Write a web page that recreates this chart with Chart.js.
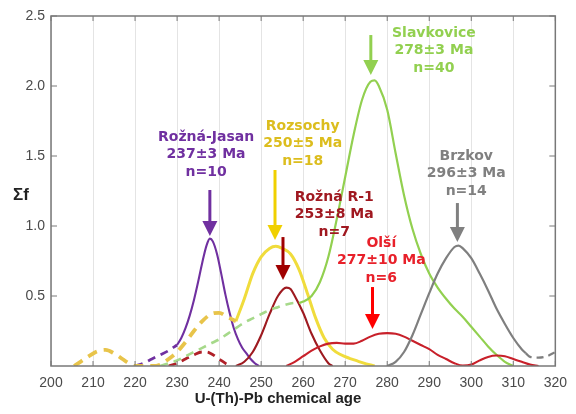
<!DOCTYPE html>
<html>
<head>
<meta charset="utf-8">
<script src="https://cdn.jsdelivr.net/npm/chart.js@4.4.1/dist/chart.umd.min.js"></script>
<style>
html, body { margin: 0; padding: 0; background: #fff; }
#wrap { width: 576px; height: 414px; }
</style>
</head>
<body>
<div id="wrap"><canvas id="chart" width="576" height="414"></canvas></div>
<script>
// axis ticks
var xTicks = [200, 210, 220, 230, 240, 250, 260, 270, 280, 290, 300, 310, 320];
var yTicks = [0.5, 1.0, 1.5, 2.0, 2.5];

// Rozna-Jasan (dashed up to 230, solid after)
var jasanAge = [220, 222, 224, 226, 228, 230, 231, 232, 233, 234, 235, 236, 237, 237.8, 238.5, 239.5, 240.5, 241.5, 242.5, 243.5, 244.5, 245.5, 246.5, 247.5, 248.5, 249.5];
var jasanF   = [0, 0.02, 0.05, 0.08, 0.11, 0.15, 0.2, 0.27, 0.36, 0.47, 0.6, 0.74, 0.86, 0.91, 0.89, 0.8, 0.66, 0.51, 0.38, 0.27, 0.19, 0.13, 0.09, 0.05, 0.02, 0];
// Rozsochy (dashed up to 244)
var rozsAge = [205.5, 207, 209, 211, 213, 215, 217, 219, 220, 222, 224, 226, 228, 230, 232, 234, 236, 238, 240, 242, 244, 246, 248, 250, 252, 253.5, 255, 257, 259, 261, 263, 265, 267, 269, 271, 273, 275, 277];
var rozsF   = [0, 0.03, 0.07, 0.105, 0.115, 0.09, 0.05, 0.01, 0, 0, 0, 0.01, 0.05, 0.1, 0.17, 0.25, 0.32, 0.37, 0.38, 0.35, 0.32, 0.48, 0.66, 0.78, 0.84, 0.855, 0.84, 0.8, 0.69, 0.52, 0.34, 0.2, 0.12, 0.08, 0.055, 0.035, 0.015, 0];
// Rozna R-1 (dashed up to 243)
var r1Age = [228, 230, 232, 234, 236, 237, 238, 240, 242, 243, 244, 246, 248, 250, 252, 254, 256, 257, 258, 260, 262, 264, 266, 267];
var r1F   = [0, 0.02, 0.05, 0.08, 0.1, 0.1, 0.09, 0.05, 0.01, 0, 0, 0.03, 0.1, 0.22, 0.37, 0.5, 0.56, 0.55, 0.5, 0.38, 0.23, 0.11, 0.02, 0];
// Olsi
var olsiAge = [256, 258, 260, 262, 264, 266, 268, 270, 272, 274, 276, 278, 280, 282, 284, 286, 288, 290, 292, 294, 296, 298, 300, 302, 304, 306, 308, 310, 312, 314, 316];
var olsiF   = [0, 0.03, 0.07, 0.11, 0.14, 0.16, 0.165, 0.16, 0.16, 0.18, 0.21, 0.23, 0.235, 0.23, 0.21, 0.18, 0.15, 0.12, 0.08, 0.05, 0.02, 0.003, 0.01, 0.04, 0.065, 0.075, 0.07, 0.05, 0.03, 0.01, 0];
// Slavkovice (dashed up to 259)
var slavAge = [226, 228, 230, 232, 234, 236, 238, 240, 242, 244, 246, 248, 250, 252, 254, 256, 258, 259, 260, 262, 264, 266, 268, 270, 272, 274, 276, 277, 278, 280, 282, 284, 286, 288, 290, 292, 294, 296, 298, 300, 302, 304, 306, 308, 310];
var slavF   = [0, 0.02, 0.04, 0.07, 0.1, 0.13, 0.16, 0.19, 0.23, 0.27, 0.31, 0.34, 0.37, 0.4, 0.42, 0.44, 0.45, 0.45, 0.46, 0.5, 0.6, 0.78, 1.05, 1.35, 1.65, 1.9, 2.03, 2.04, 2.0, 1.83, 1.52, 1.22, 0.98, 0.8, 0.66, 0.56, 0.48, 0.41, 0.35, 0.28, 0.21, 0.14, 0.08, 0.03, 0];
// Brzkov (solid up to 313, dashed after)
var brzAge = [280, 282, 284, 286, 288, 290, 292, 294, 296, 297, 298, 300, 302, 304, 306, 308, 310, 312, 313, 314, 316, 318, 320];
var brzF   = [0, 0.03, 0.1, 0.22, 0.37, 0.52, 0.66, 0.77, 0.85, 0.86, 0.84, 0.77, 0.66, 0.54, 0.41, 0.3, 0.2, 0.12, 0.09, 0.065, 0.06, 0.07, 0.1];

// labels with arrows
var notes = [
  { lines: ['Rožná-Jasan', '237±3 Ma', 'n=10'], tx: 236.9, ty: 1.636, ax: 237.8, a0: 1.257, a1: 0.929, text: '#7030a0', arrow: '#7030a0' },
  { lines: ['Rozsochy', '250±5 Ma', 'n=18'], tx: 259.9, ty: 1.714, ax: 253.3, a0: 1.4, a1: 0.9, text: '#dcbd1e', arrow: '#f0d000' },
  { lines: ['Rožná R-1', '253±8 Ma', 'n=7'], tx: 267.4, ty: 1.207, ax: 255.2, a0: 0.921, a1: 0.614, text: '#a01820', arrow: '#a00000' },
  { lines: ['Olší', '277±10 Ma', 'n=6'], tx: 278.6, ty: 0.879, ax: 276.5, a0: 0.564, a1: 0.264, text: '#e8202a', arrow: '#ff0000' },
  { lines: ['Slavkovice', '278±3 Ma', 'n=40'], tx: 291.1, ty: 2.379, ax: 276.1, a0: 2.364, a1: 2.079, text: '#92d050', arrow: '#92d050' },
  { lines: ['Brzkov', '296±3 Ma', 'n=14'], tx: 298.8, ty: 1.5, ax: 296.7, a0: 1.164, a1: 0.886, text: '#808080', arrow: '#808080' }
];

function pts(age, f, from, to) {
  var out = [];
  for (var i = 0; i < age.length; i++) {
    if (age[i] >= from && age[i] <= to) out.push({ x: age[i], y: f[i] });
  }
  return out;
}

function series(age, f, split, dashFirst, color, dashColor, w, dw, dash) {
  var lo = dashFirst ? pts(age, f, -1, split) : pts(age, f, split, 1e9);
  var hi = dashFirst ? pts(age, f, split, 1e9) : pts(age, f, -1, split);
  var line = { data: hi, borderColor: color, borderWidth: w, pointRadius: 0, fill: false, cubicInterpolationMode: 'monotone' };
  var dashed = { data: lo, borderColor: dashColor, borderWidth: dw, borderDash: dash, pointRadius: 0, fill: false, cubicInterpolationMode: 'monotone' };
  return [dashed, line];
}

var datasets = [].concat(
  series(brzAge, brzF, 313, false, '#7f7f7f', '#7f7f7f', 2.2, 2.2, [7, 5]),
  series(olsiAge, olsiF, 0, true, '#c8202a', '#c8202a', 2.1, 2.1, []),
  series(slavAge, slavF, 259, true, '#92d050', '#a6d98a', 2.2, 2.6, [8, 6]),
  series(r1Age, r1F, 243.5, true, '#9e1a20', '#b02028', 2.1, 2.8, [8, 6]),
  series(rozsAge, rozsF, 244, true, '#f0dc3c', '#e8c44a', 3, 3.8, [10, 7]),
  series(jasanAge, jasanF, 230, true, '#7030a0', '#7030a0', 2.1, 2.8, [8, 6])
);

var decor = {
  id: 'decor',
  afterDatasetsDraw: function(chart) {
    var ctx = chart.ctx, a = chart.chartArea, xs = chart.scales.x, ys = chart.scales.y;
    ctx.save();
    // frame and inner ticks
    ctx.strokeStyle = '#787878';
    ctx.lineWidth = 1.5;
    ctx.strokeRect(a.left, a.top, a.right - a.left, a.bottom - a.top);
    ctx.lineWidth = 1;
    ctx.beginPath();
    xTicks.forEach(function(v) {
      var x = xs.getPixelForValue(v);
      ctx.moveTo(x, a.top); ctx.lineTo(x, a.top + 5);
      ctx.moveTo(x, a.bottom); ctx.lineTo(x, a.bottom - 5);
    });
    yTicks.forEach(function(v) {
      var y = ys.getPixelForValue(v);
      ctx.moveTo(a.left, y); ctx.lineTo(a.left + 6, y);
      ctx.moveTo(a.right, y); ctx.lineTo(a.right - 6, y);
    });
    ctx.stroke();

    // annotations
    ctx.font = 'bold 14px "DejaVu Sans"';
    ctx.textAlign = 'center';
    ctx.textBaseline = 'middle';
    notes.forEach(function(n) {
      var tx = xs.getPixelForValue(n.tx), ty = ys.getPixelForValue(n.ty);
      ctx.fillStyle = n.text;
      n.lines.forEach(function(t, i) { ctx.fillText(t, tx, ty + i * 17.5); });
      var ax = xs.getPixelForValue(n.ax), y0 = ys.getPixelForValue(n.a0), y1 = ys.getPixelForValue(n.a1);
      ctx.strokeStyle = n.arrow;
      ctx.fillStyle = n.arrow;
      ctx.lineWidth = 3;
      ctx.beginPath();
      ctx.moveTo(ax, y0); ctx.lineTo(ax, y1 - 12);
      ctx.stroke();
      ctx.beginPath();
      ctx.moveTo(ax - 7.5, y1 - 15);
      ctx.lineTo(ax + 7.5, y1 - 15);
      ctx.lineTo(ax, y1);
      ctx.closePath();
      ctx.fill();
    });

    // axis titles
    ctx.fillStyle = '#222';
    ctx.font = 'bold 15px "Liberation Sans", Arial';
    ctx.textAlign = 'center';
    ctx.fillText('U-(Th)-Pb chemical age', 278, 399);
    ctx.font = 'bold 17px "Liberation Sans", Arial';
    ctx.fillText('Σf', 21, 195);
    ctx.restore();
  }
};

new Chart(document.getElementById('chart'), {
  type: 'line',
  data: { datasets: datasets },
  options: {
    responsive: false,
    animation: false,
    devicePixelRatio: 1,
    layout: { padding: { top: 16, right: 14, left: 0, bottom: 0 } },
    plugins: { legend: { display: false }, tooltip: { enabled: false } },
    scales: {
      x: {
        type: 'linear', min: 200, max: 320,
        afterFit: function(s) { s.height = 48; },
        afterBuildTicks: function(s) { s.ticks = xTicks.map(function(v) { return { value: v }; }); },
        ticks: { padding: 9, color: '#4a4a4a', font: { family: '"Liberation Sans", Arial', size: 14 } },
        grid: { color: '#e4e4e4', lineWidth: 1, drawTicks: false },
        border: { display: false }
      },
      y: {
        type: 'linear', min: 0, max: 2.5,
        afterFit: function(s) { s.width = 51; },
        afterBuildTicks: function(s) { s.ticks = yTicks.map(function(v) { return { value: v }; }); },
        ticks: { padding: 6, color: '#4a4a4a', font: { family: '"Liberation Sans", Arial', size: 14 },
          callback: function(v) { return v.toFixed(1); } },
        grid: { display: false, drawTicks: false },
        border: { display: false }
      }
    }
  },
  plugins: [decor]
});
</script>
</body>
</html>
